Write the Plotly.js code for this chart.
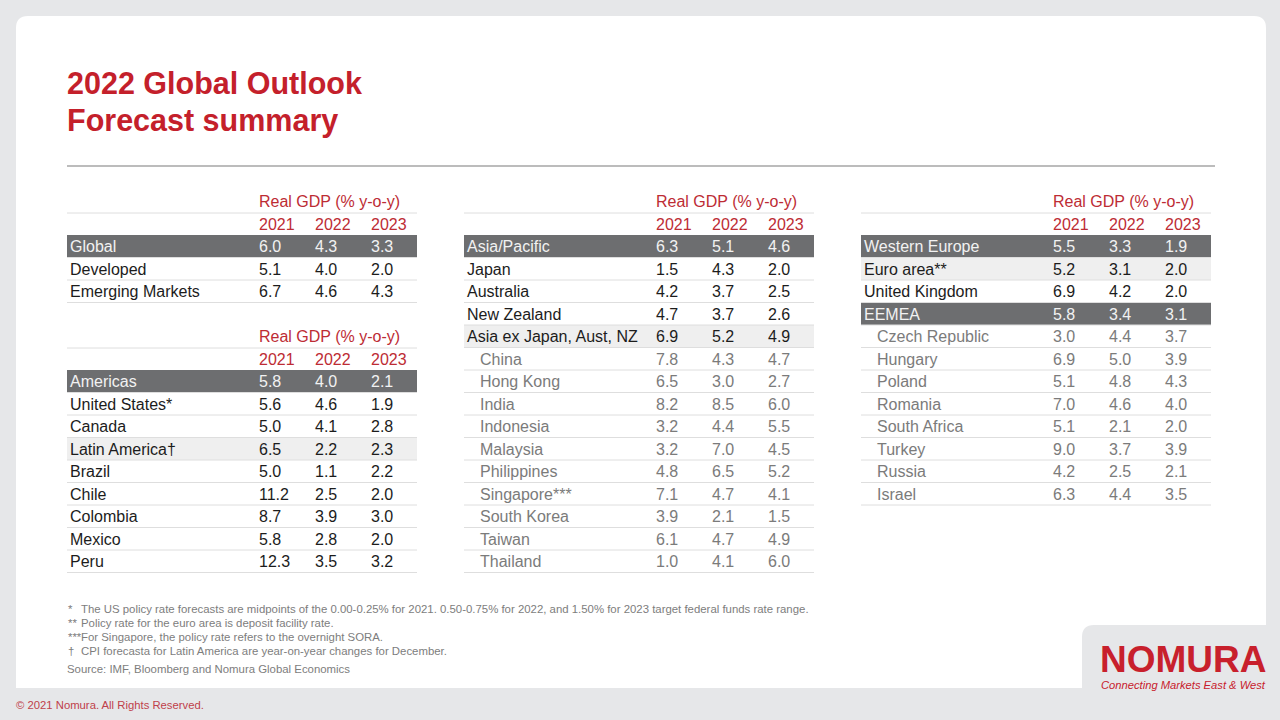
<!DOCTYPE html>
<html>
<head>
<meta charset="utf-8">
<script src="https://cdn.plot.ly/plotly-3.0.1.min.js"></script>
<style>
  html, body { margin: 0; padding: 0; background: #e6e7e9; }
  #chart { width: 1280px; height: 720px; }
</style>
</head>
<body>
<div id="chart"></div>
<script>
const years = ['2021', '2022', '2023'];
const gdpHeader = 'Real GDP (% y-o-y)';

const globalNames = ['Global', 'Developed', 'Emerging Markets'];
const globalLevel = ['region', 'country', 'country'];
const global2021 = [6.0, 5.1, 6.7];
const global2022 = [4.3, 4.0, 4.6];
const global2023 = [3.3, 2.0, 4.3];

const americasNames = ['Americas', 'United States*', 'Canada', 'Latin America\u2020', 'Brazil', 'Chile', 'Colombia', 'Mexico', 'Peru'];
const americasLevel = ['region', 'country', 'country', 'group', 'country', 'country', 'country', 'country', 'country'];
const americas2021 = [5.8, 5.6, 5.0, 6.5, 5.0, 11.2, 8.7, 5.8, 12.3];
const americas2022 = [4.0, 4.6, 4.1, 2.2, 1.1, 2.5, 3.9, 2.8, 3.5];
const americas2023 = [2.1, 1.9, 2.8, 2.3, 2.2, 2.0, 3.0, 2.0, 3.2];

const asiaNames = ['Asia/Pacific', 'Japan', 'Australia', 'New Zealand', 'Asia ex Japan, Aust, NZ', 'China', 'Hong Kong', 'India',
  'Indonesia', 'Malaysia', 'Philippines', 'Singapore***', 'South Korea', 'Taiwan', 'Thailand'];
const asiaLevel = ['region', 'country', 'country', 'country', 'group', 'member', 'member', 'member',
  'member', 'member', 'member', 'member', 'member', 'member', 'member'];
const asia2021 = [6.3, 1.5, 4.2, 4.7, 6.9, 7.8, 6.5, 8.2, 3.2, 3.2, 4.8, 7.1, 3.9, 6.1, 1.0];
const asia2022 = [5.1, 4.3, 3.7, 3.7, 5.2, 4.3, 3.0, 8.5, 4.4, 7.0, 6.5, 4.7, 2.1, 4.7, 4.1];
const asia2023 = [4.6, 2.0, 2.5, 2.6, 4.9, 4.7, 2.7, 6.0, 5.5, 4.5, 5.2, 4.1, 1.5, 4.9, 6.0];

const europeNames = ['Western Europe', 'Euro area**', 'United Kingdom', 'EEMEA', 'Czech Republic', 'Hungary', 'Poland',
  'Romania', 'South Africa', 'Turkey', 'Russia', 'Israel'];
const europeLevel = ['region', 'group', 'country', 'region', 'member', 'member', 'member',
  'member', 'member', 'member', 'member', 'member'];
const europe2021 = [5.5, 5.2, 6.9, 5.8, 3.0, 6.9, 5.1, 7.0, 5.1, 9.0, 4.2, 6.3];
const europe2022 = [3.3, 3.1, 4.2, 3.4, 4.4, 5.0, 4.8, 4.6, 2.1, 3.7, 2.5, 4.4];
const europe2023 = [1.9, 2.0, 2.0, 3.1, 3.7, 3.9, 4.3, 4.0, 2.0, 3.9, 2.1, 3.5];

const footnoteMarks = ['*', '**', '***', '\u2020'];
const footnoteTexts = [
  'The US policy rate forecasts are midpoints of the 0.00-0.25% for 2021. 0.50-0.75% for 2022, and 1.50% for 2023 target federal funds rate range.',
  'Policy rate for the euro area is deposit facility rate.',
  'For Singapore, the policy rate refers to the overnight SORA.',
  'CPI forecasta for Latin America are year-on-year changes for December.'
];
const sourceText = 'Source: IMF, Bloomberg and Nomura Global Economics';
const titleLines = ['2022 Global Outlook', 'Forecast summary'];
const copyrightText = '\u00a9 2021 Nomura. All Rights Reserved.';

// ---- layout constants ----
const FONT = '"Liberation Sans", Arial, Helvetica, sans-serif';
const RED = '#c4202b';
const HEAD_RED = '#bd2c34';
const ROW_H = 22.5;
const TABLE_W = 350;
const COL_OFFSETS = [192, 248, 304];

const levelFill = { region: '#6d6e70', group: '#efefef' };
const levelText = { region: '#f2f2f2', group: '#1c1c1c', country: '#1c1c1c', member: '#7b7b7b' };

const tables = [
  { names: globalNames, level: globalLevel, vals: [global2021, global2022, global2023], x0: 67, headerY: 201 },
  { names: americasNames, level: americasLevel, vals: [americas2021, americas2022, americas2023], x0: 67, headerY: 336 },
  { names: asiaNames, level: asiaLevel, vals: [asia2021, asia2022, asia2023], x0: 464, headerY: 201 },
  { names: europeNames, level: europeLevel, vals: [europe2021, europe2022, europe2023], x0: 861, headerY: 201 }
];

const traces = [];
const shapes = [];
const annotations = [];

// card background with the cut-out corner for the logo
shapes.push({
  type: 'path', layer: 'below',
  path: 'M16,28 Q16,16 28,16 L1254,16 Q1266,16 1266,28 L1266,625 L1094,625 Q1082,625 1082,637 L1082,688 L16,688 Z',
  fillcolor: '#ffffff', line: { width: 0 }
});
// separator under the title
shapes.push({ type: 'line', layer: 'below', x0: 67, x1: 1215, y0: 166, y1: 166, line: { color: '#bcbcbc', width: 2 } });

tables.forEach(t => {
  const firstTop = t.headerY + 34;
  const rowCenters = t.names.map((_, i) => firstTop + ROW_H * i + ROW_H / 2);

  // row fills
  t.level.forEach((lv, i) => {
    if (levelFill[lv]) {
      shapes.push({
        type: 'rect', layer: 'below',
        x0: t.x0, x1: t.x0 + TABLE_W, y0: firstTop + ROW_H * i, y1: firstTop + ROW_H * (i + 1),
        fillcolor: levelFill[lv], line: { width: 0 }
      });
    }
  });
  // rule under header + under each row
  const ruleYs = [t.headerY + 12].concat(t.names.map((_, i) => firstTop + ROW_H * (i + 1)));
  ruleYs.forEach(y => {
    shapes.push({
      type: 'line', layer: 'below', x0: t.x0, x1: t.x0 + TABLE_W, y0: y, y1: y,
      line: { color: '#dedede', width: 1 }
    });
  });

  // header texts
  traces.push({
    type: 'scatter', mode: 'text', cliponaxis: false, hoverinfo: 'skip',
    x: [t.x0 + COL_OFFSETS[0]].concat(COL_OFFSETS.map(o => t.x0 + o)),
    y: [t.headerY + 2].concat(years.map(() => t.headerY + 25)),
    text: [gdpHeader].concat(years),
    textposition: 'middle right',
    textfont: { family: FONT, size: 16, color: HEAD_RED }
  });

  // row labels
  traces.push({
    type: 'scatter', mode: 'text', cliponaxis: false, hoverinfo: 'skip',
    x: t.level.map(lv => t.x0 + (lv === 'member' ? 16 : 3)),
    y: rowCenters.map(y => y + 2),
    text: t.names,
    textposition: 'middle right',
    textfont: { family: FONT, size: 16, color: t.level.map(lv => levelText[lv]) }
  });

  // values
  t.vals.forEach((col, c) => {
    traces.push({
      type: 'scatter', mode: 'text', cliponaxis: false, hoverinfo: 'skip',
      x: col.map(() => t.x0 + COL_OFFSETS[c]),
      y: rowCenters.map(y => y + 2),
      text: col.map(v => v.toFixed(1)),
      textposition: 'middle right',
      textfont: { family: FONT, size: 16, color: t.level.map(lv => levelText[lv]) }
    });
  });
});

// title
titleLines.forEach((line, i) => {
  annotations.push({
    x: 65, y: 83 + 37 * i, xref: 'x', yref: 'y', xanchor: 'left', yanchor: 'middle',
    text: '<b>' + line + '</b>', showarrow: false,
    font: { family: FONT, size: 30.5, color: RED }
  });
});

// footnotes
footnoteMarks.forEach((m, i) => {
  const y = 609 + 14 * i;
  annotations.push({
    x: 66, y: y, xref: 'x', yref: 'y', xanchor: 'left', yanchor: 'middle',
    text: m, showarrow: false, font: { family: FONT, size: 11.4, color: '#7d7d7d' }
  });
  annotations.push({
    x: 79, y: y, xref: 'x', yref: 'y', xanchor: 'left', yanchor: 'middle',
    text: footnoteTexts[i], showarrow: false, font: { family: FONT, size: 11.4, color: '#7d7d7d' }
  });
});
annotations.push({
  x: 65, y: 669, xref: 'x', yref: 'y', xanchor: 'left', yanchor: 'middle',
  text: sourceText, showarrow: false, font: { family: FONT, size: 11.4, color: '#7d7d7d' }
});
annotations.push({
  x: 14, y: 705, xref: 'x', yref: 'y', xanchor: 'left', yanchor: 'middle',
  text: copyrightText, showarrow: false, font: { family: FONT, size: 11.3, color: '#c0414b' }
});

// logo
annotations.push({
  x: 1268, y: 659, xref: 'x', yref: 'y', xanchor: 'right', yanchor: 'middle',
  text: '<b>NOMURA</b>', showarrow: false, font: { family: FONT, size: 37, color: '#c8202c' }
});
annotations.push({
  x: 1268, y: 685, xref: 'x', yref: 'y', xanchor: 'right', yanchor: 'middle',
  text: '<i>Connecting Markets East &amp; West</i>', showarrow: false, font: { family: FONT, size: 11.2, color: '#c8202c' }
});

const layout = {
  width: 1280, height: 720,
  margin: { l: 0, r: 0, t: 0, b: 0 },
  paper_bgcolor: '#e6e7e9',
  plot_bgcolor: 'rgba(0,0,0,0)',
  showlegend: false,
  hovermode: false,
  xaxis: { range: [0, 1280], visible: false, fixedrange: true },
  yaxis: { range: [720, 0], visible: false, fixedrange: true },
  shapes: shapes,
  annotations: annotations
};

Plotly.newPlot('chart', traces, layout, { staticPlot: true, displayModeBar: false });
</script>
</body>
</html>
